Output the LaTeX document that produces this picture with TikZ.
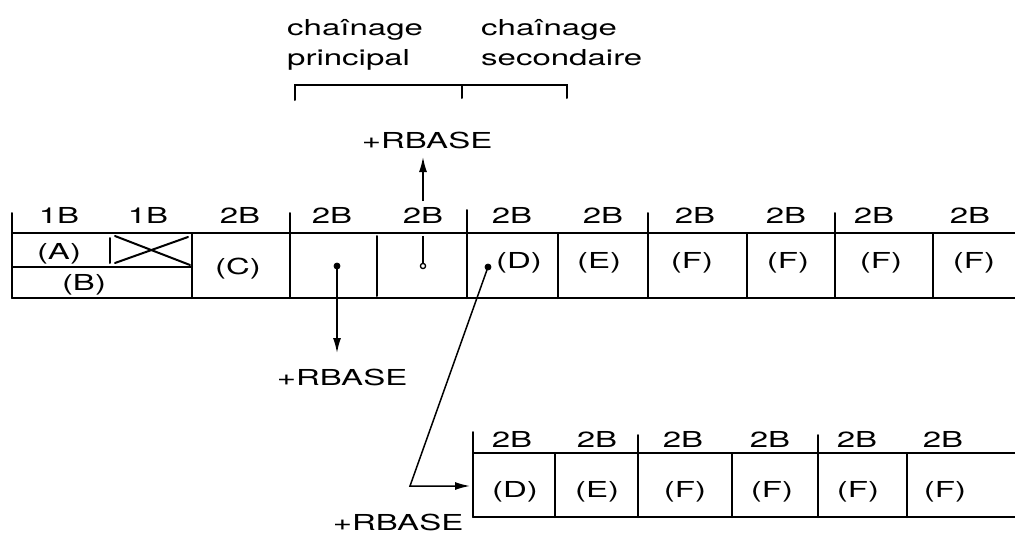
\documentclass[tikz,border=0pt]{standalone}
\usepackage{fontspec}
\setmainfont{TeX Gyre Heros}
\newfontfamily\widefont[FakeStretch=1.5]{TeX Gyre Heros}
\usetikzlibrary{arrows.meta}
\tikzset{
  lab/.style={font={\widefont\fontsize{22}{26}\selectfont}, inner sep=0pt, anchor=base},
  labw/.style={lab, anchor=base west},
  rule/.style={line width=2pt, line cap=round},
  conn/.style={line width=1.5pt},
  arr/.style={conn, -{Latex[length=15pt,width=8pt]}},
  dotf/.style={fill=black, draw=black, line width=0.8pt},
  doto/.style={fill=white, draw=black, line width=1.3pt}
}
\begin{document}
\begin{tikzpicture}[x=1pt,y=-1pt]
\useasboundingbox (0,0) rectangle (1015,533);

% ---- top labels and bracket
\node[labw] (cp1) at (287,35) {chaînage};
\node[labw] (cp2) at (287,65) {principal};
\node[labw] (cs1) at (481,35) {chaînage};
\node[labw] (cs2) at (481,65) {secondaire};
\draw[rule] (295,100) -- (295,85) -- (567,85) -- (567,98);
\draw[rule] (462,85) -- (462,98);

% ---- main row frame
\draw[rule] (12,233) -- (1015,233);
\draw[rule] (12,298) -- (1015,298);
\draw[rule] (12,213) -- (12,298);
\draw[rule] (12,267) -- (192,267);
\draw[rule] (110,238) -- (110,263);
\draw[rule] (115,236) -- (190,265);
\draw[rule] (115,263) -- (188,237);
\draw[rule] (192,233) -- (192,298);
\draw[rule] (290,213) -- (290,298);
\draw[rule] (377,236) -- (377,296);
\draw[rule] (467,210) -- (467,298);
\draw[rule] (558,233) -- (558,298);
\draw[rule] (648,213) -- (648,298);
\draw[rule] (747,233) -- (747,298);
\draw[rule] (835,213) -- (835,298);
\draw[rule] (933,233) -- (933,298);

% ---- main row size labels
\node[lab] (m1) at (59,223) {1B};
\node[lab] (m2) at (148,223) {1B};
\node[lab] (m3) at (240,223) {2B};
\node[lab] (m4) at (332,223) {2B};
\node[lab] (m5) at (423,223) {2B};
\node[lab] (m6) at (512,223) {2B};
\node[lab] (m7) at (603,223) {2B};
\node[lab] (m8) at (695,223) {2B};
\node[lab] (m9) at (786,223) {2B};
\node[lab] (m10) at (874,223) {2B};
\node[lab] (m11) at (970,223) {2B};

% ---- main row contents
\node[lab] (cA) at (59,259) {(A)};
\node[lab] (cB) at (84,290) {(B)};
\node[lab] (cC) at (238,274) {(C)};
\node[lab] (cD) at (519,268) {(D)};
\node[lab] (cE) at (599,268) {(E)};
\node[lab] (cF1) at (692,268) {(F)};
\node[lab] (cF2) at (788,268) {(F)};
\node[lab] (cF3) at (881,268) {(F)};
\node[lab] (cF4) at (974,268) {(F)};

% ---- second row frame
\draw[rule] (473,453) -- (1015,453);
\draw[rule] (473,517) -- (1015,517);
\draw[rule] (473,432) -- (473,517);
\draw[rule] (555,453) -- (555,517);
\draw[rule] (638,435) -- (638,517);
\draw[rule] (732,453) -- (732,517);
\draw[rule] (818,435) -- (818,517);
\draw[rule] (907,453) -- (907,517);

\node[lab] (n1) at (512,447) {2B};
\node[lab] (n2) at (597,447) {2B};
\node[lab] (n3) at (683,447) {2B};
\node[lab] (n4) at (770,447) {2B};
\node[lab] (n5) at (857,447) {2B};
\node[lab] (n6) at (943,447) {2B};
\node[lab] (e1) at (515,497) {(D)};
\node[lab] (e2) at (597,497) {(E)};
\node[lab] (e3) at (685,497) {(F)};
\node[lab] (e4) at (772,497) {(F)};
\node[lab] (e5) at (858,497) {(F)};
\node[lab] (e6) at (945,497) {(F)};

% ---- pointers
\coordinate (d1) at (337,266);
\coordinate (t1) at (337,353);
\node[lab] (r1) at (342,385) {+RBASE};
\draw[arr] (d1) -- (t1);
\fill[dotf] (d1) circle (3pt);

\coordinate (d2) at (423,266);
\coordinate (u2) at (423,236);
\coordinate (s2) at (423,201);
\coordinate (t2) at (423,157);
\node[lab] (r2) at (427,148) {+RBASE};
\draw[conn] (d2) -- (u2);
\draw[arr] (s2) -- (t2);
\draw[doto] (d2) circle (2.6pt);

\coordinate (d3) at (488,267);
\coordinate (k3) at (410,486);
\coordinate (t3) at (470,486);
\node[lab] (r3) at (398,530) {+RBASE};
\draw[arr] (d3) -- (k3) -- (t3);
\fill[dotf] (d3) circle (3pt);
\end{tikzpicture}
\end{document}
